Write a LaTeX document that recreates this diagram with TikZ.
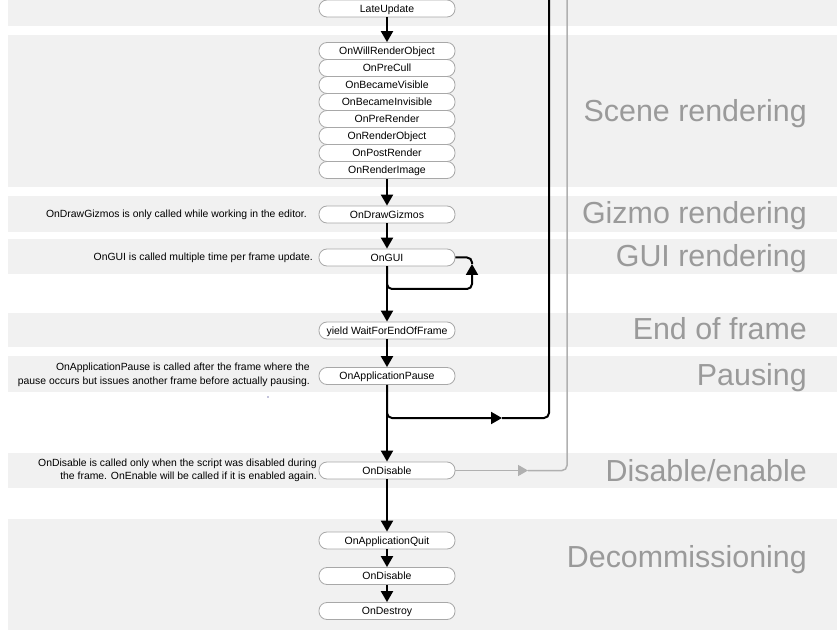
\documentclass[tikz,border=0pt]{standalone}
\usepackage{fontspec}
\setmainfont{Liberation Sans}
\usetikzlibrary{arrows.meta}
\definecolor{bandfill}{HTML}{F1F1F1}
\definecolor{labelgray}{HTML}{9A9A9A}
\definecolor{boxline}{HTML}{A8A8A8}
\definecolor{grayline}{HTML}{B0B0B0}
\begin{document}
\begin{tikzpicture}[x=1pt,y=-1pt,
  band/.style={fill=bandfill, draw=none},
  event/.style={draw=boxline, fill=white, rounded corners=8pt, minimum width=136pt,
    minimum height=17pt, inner sep=0pt, line width=0.8pt, text height=7.5pt, text depth=0pt,
    font=\fontsize{10.5}{12}\selectfont},
  note/.style={font=\fontsize{10.4}{13.5}\selectfont, align=right, inner sep=0pt, anchor=east},
  phase/.style={font=\fontsize{30.4}{36}\selectfont, text=labelgray, anchor=base east, inner sep=0pt},
  flow/.style={line width=2pt, -{Triangle[width=12pt,length=11pt]}},
  flowline/.style={line width=2pt},
  grayflow/.style={line width=1.5pt, draw=grayline, -{Triangle[width=11pt,length=10pt]}},
  graylinestyle/.style={line width=1.5pt, draw=grayline}
]
\useasboundingbox (0,0) rectangle (839,639);

% bands
\fill[band] (8,0) rectangle (837,26);
\fill[band] (8,35) rectangle (837,187);
\fill[band] (8,196) rectangle (837,232);
\fill[band] (8,239) rectangle (837,274);
\fill[band] (8,313) rectangle (837,347);
\fill[band] (8,356) rectangle (837,392);
\fill[band] (8,453) rectangle (837,488);
\fill[band] (8,519) rectangle (837,630);

% phase labels
\node[phase] (lscene) at (807,122) {Scene rendering};
\node[phase] (lgizmo) at (807,224) {Gizmo rendering};
\node[phase] (lgui) at (807,267) {GUI rendering};
\node[phase] (lend) at (807,340) {End of frame};
\node[phase] (lpause) at (807,385) {Pausing};
\node[phase] (ldis) at (807,481) {Disable/enable};
\node[phase] (ldecom) at (807,567.5) {Decommissioning};

% notes
\node[note] (ngizmo) at (307,214.5) {OnDrawGizmos is only called while working in the editor.};
\node[note] (ngui) at (313,257.5) {OnGUI is called multiple time per frame update.};
\node[note] (npause) at (310,375) {OnApplicationPause is called after the frame where the\\pause occurs but issues another frame before actually pausing.\hspace{4pt}};
\node[note] (ndis) at (317,470.5) {OnDisable is called only when the script was disabled during\hspace{11pt}\\the frame. OnEnable will be called if it is enabled again.};
\fill[fill=blue!40!black] (268,397) circle (0.6pt);

% event nodes
\node[event] (late) at (387,8.5) {LateUpdate};
\node[event] (r1) at (387,51) {OnWillRenderObject};
\node[event] (r2) at (387,68) {OnPreCull};
\node[event] (r3) at (387,85) {OnBecameVisible};
\node[event] (r4) at (387,102) {OnBecameInvisible};
\node[event] (r5) at (387,119) {OnPreRender};
\node[event] (r6) at (387,136) {OnRenderObject};
\node[event] (r7) at (387,153) {OnPostRender};
\node[event] (r8) at (387,170) {OnRenderImage};
\node[event] (gizmo) at (387,214.5) {OnDrawGizmos};
\node[event] (gui) at (387,257.5) {OnGUI};
\node[event] (yield) at (387,330.5) {yield WaitForEndOfFrame};
\node[event] (pause) at (387,376) {OnApplicationPause};
\node[event] (dis) at (387,470.5) {OnDisable};
\node[event] (quit) at (387,540.5) {OnApplicationQuit};
\node[event] (dis2) at (387,576) {OnDisable};
\node[event] (destroy) at (387,611) {OnDestroy};

% helper coordinates
\coordinate (loopcorner) at (472,289);
\coordinate (looptip) at (472,264);
\coordinate (pausetip) at (502,418);
\coordinate (topblack) at (549,-2);
\coordinate (graytip) at (528,470.5);
\coordinate (topgray) at (567,-2);

% main flow
\draw[flow] (late) -- (r1);
\draw[flow] (r8) -- (gizmo);
\draw[flow] (gizmo) -- (gui);
\draw[flow] (gui) -- (yield);
\draw[flow] (yield) -- (pause);
\draw[flow] (pause) -- (dis);
\draw[flow] (dis) -- (quit);
\draw[flow] (quit) -- (dis2);
\draw[flow] (dis2) -- (destroy);

% GUI loop
\draw[flow, rounded corners=5pt] (gui.south) |- (loopcorner) -- (looptip);
\draw[flowline, rounded corners=5pt] (looptip) |- (gui.east);

% pause branch
\draw[flow, rounded corners=5pt] (pause.south) |- (pausetip);
\draw[flowline, rounded corners=5pt] (pausetip) -| (topblack);

% disable branch
\draw[grayflow] (dis.east) -- (graytip);
\draw[graylinestyle, rounded corners=5pt] (graytip) -| (topgray);
\end{tikzpicture}
\end{document}
